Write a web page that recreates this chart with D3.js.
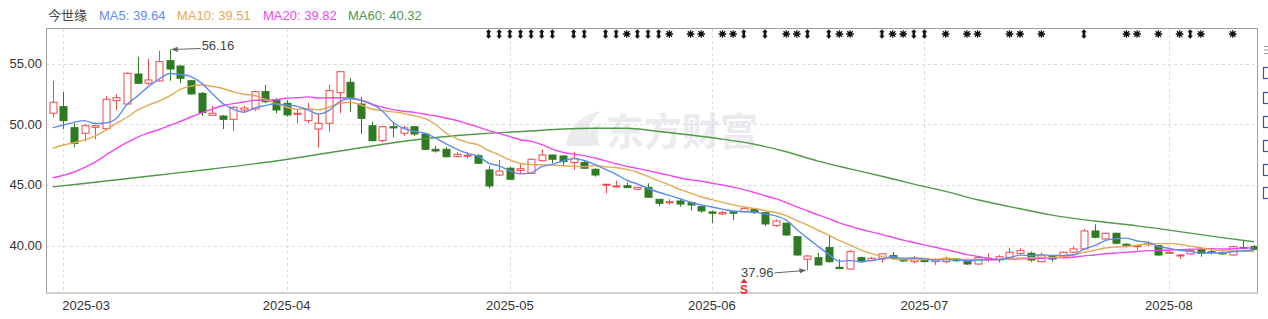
<!DOCTYPE html>
<html>
<head>
<meta charset="utf-8">
<script src="https://cdn.jsdelivr.net/npm/d3@7/dist/d3.min.js"></script>
<style>
  body { margin: 0; background: #fff; }
  svg { display: block; font-family: "Liberation Sans", Arial, "Noto Sans CJK SC", sans-serif; }
</style>
</head>
<body>
<div id="chart"></div>
<script>
// trading days shown on the chart, grouped by month
const monthDays = [
  ['2025-02', [28]],
  ['2025-03', [3,4,5,6,7,10,11,12,13,14,17,18,19,20,21,24,25,26,27,28,31]],
  ['2025-04', [1,2,3,7,8,9,10,11,14,15,16,17,18,21,22,23,24,25,28,29,30]],
  ['2025-05', [6,7,8,9,12,13,14,15,16,19,20,21,22,23,26,27,28,29,30]],
  ['2025-06', [3,4,5,6,9,10,11,12,13,16,17,18,19,20,23,24,25,26,27,30]],
  ['2025-07', [1,2,3,4,7,8,9,10,11,14,15,16,17,18,21,22,23,24,25,28,29,30,31]],
  ['2025-08', [1,4,5,6,7,8,11,12,13]]
]

const open = [50.91,51.45,49.72,49.26,49.75,49.64,51.94,51.67,54.14,53.38,
  53.57,55.24,54.80,53.59,52.55,50.74,50.68,50.41,51.18,51.26,
  52.69,52.00,51.73,50.82,50.30,49.61,50.08,52.60,53.46,51.67,
  49.88,48.65,49.80,49.26,49.80,49.20,47.94,47.94,47.33,47.39,
  47.41,46.24,45.82,46.38,46.19,45.96,47.00,47.47,47.39,46.84,
  46.84,46.29,44.98,44.84,44.94,44.65,44.81,43.82,43.54,43.68,
  43.54,43.21,42.78,42.61,42.78,42.80,43.00,42.72,41.65,41.85,
  40.74,38.88,39.01,39.84,38.22,38.08,39.01,38.76,38.90,39.18,
  38.96,38.68,38.90,38.68,38.68,38.90,38.82,38.49,38.82,38.82,
  39.04,39.37,39.37,38.68,39.18,39.09,39.46,39.73,41.21,40.55,
  41.02,40.12,39.92,40.08,40.00,39.37,39.15,39.32,39.70,39.51,
  39.42,39.23,39.84,39.92]

const close = [51.81,50.30,48.43,49.88,49.88,52.06,52.19,54.20,53.38,53.65,
  55.16,54.55,53.79,52.50,50.96,50.91,50.41,51.40,51.34,52.69,
  51.86,51.18,50.77,50.91,51.24,50.08,52.77,54.33,52.22,50.49,
  48.65,49.80,49.70,49.70,49.20,47.94,47.80,47.33,47.53,47.45,
  46.79,44.92,46.15,45.47,46.34,47.12,47.47,47.12,46.92,47.20,
  46.38,45.82,45.06,44.92,44.78,44.81,43.99,43.49,43.62,43.43,
  43.35,42.86,42.67,42.72,42.67,43.08,42.72,41.79,42.03,40.88,
  39.23,39.15,38.41,38.68,38.11,39.51,38.68,38.96,39.32,38.96,
  38.74,38.96,38.68,38.82,38.96,38.76,38.49,39.01,38.96,39.09,
  39.46,39.59,38.82,39.23,38.90,39.46,39.73,41.21,40.69,41.02,
  40.20,40.00,40.00,40.20,39.23,39.46,39.23,39.59,39.37,39.42,
  39.32,39.92,39.79,39.70]

const high = [53.59,52.66,50.08,50.02,49.94,52.33,52.47,54.28,55.57,55.38,
  56.06,56.16,54.85,53.65,52.66,51.51,50.77,51.51,51.51,52.77,
  53.24,52.15,52.00,51.18,51.78,50.91,53.24,54.35,53.79,52.27,
  50.21,49.86,50.08,49.88,49.82,49.31,48.21,48.11,47.74,47.72,
  47.55,46.57,47.06,46.51,46.81,47.20,47.94,47.49,47.41,47.74,
  47.00,46.38,45.08,45.35,45.19,44.86,45.14,43.84,43.82,43.82,
  43.62,43.27,42.88,42.88,42.80,43.21,43.08,42.80,42.17,41.89,
  40.80,39.21,39.42,40.88,38.88,39.65,39.09,39.09,39.37,39.48,
  39.01,39.15,38.96,38.96,39.09,38.96,38.88,39.09,39.37,39.23,
  39.84,39.79,39.51,39.46,39.23,39.51,39.92,41.38,41.76,41.07,
  41.07,40.20,40.02,40.33,40.06,39.65,39.29,39.65,39.75,39.65,
  39.51,40.00,40.41,40.06]

const low = [50.58,49.59,48.11,48.57,48.76,49.47,51.18,51.60,53.29,53.24,
  53.50,53.59,53.38,52.45,50.68,50.71,49.61,49.45,50.91,51.12,
  51.73,50.91,50.63,50.08,50.08,48.11,49.39,50.91,51.04,49.20,
  48.60,48.52,48.93,49.04,49.04,47.88,47.66,47.28,47.28,47.17,
  46.73,44.73,45.74,45.41,45.99,45.91,46.92,46.79,46.65,46.24,
  46.35,45.68,44.32,44.82,44.76,44.59,43.97,43.27,43.35,43.21,
  42.88,42.72,41.85,42.53,42.12,42.72,42.61,41.62,41.56,40.80,
  39.18,37.96,38.33,38.60,38.06,38.00,38.60,38.72,38.60,38.94,
  38.68,38.55,38.63,38.41,38.55,38.66,38.41,38.39,38.68,38.60,
  38.96,39.23,38.68,38.63,38.68,38.96,39.37,39.65,40.61,40.47,
  40.12,39.84,39.65,39.92,39.18,39.29,38.90,39.26,39.09,39.29,
  39.23,39.18,39.70,39.65]

const ma5 = [49.72,49.94,50.16,50.30,50.06,50.11,50.49,51.64,52.34,53.10,
  53.72,54.19,54.11,53.93,53.39,52.54,51.71,51.24,51.00,51.35,
  51.54,51.69,51.57,51.48,51.19,50.84,51.15,51.87,52.13,51.98,
  51.69,51.10,50.17,49.67,49.41,49.27,48.87,48.39,47.96,47.61,
  47.38,46.80,46.57,46.16,45.93,46.00,46.51,46.70,46.99,47.17,
  47.02,46.69,46.28,45.88,45.39,45.08,44.71,44.40,44.14,43.87,
  43.58,43.35,43.19,43.01,42.85,42.80,42.77,42.60,42.46,42.10,
  41.33,40.62,39.94,39.27,38.72,38.77,38.68,38.79,38.92,39.09,
  38.93,38.99,38.93,38.83,38.83,38.84,38.74,38.81,38.84,38.86,
  39.00,39.22,39.18,39.24,39.20,39.20,39.23,39.71,40.00,40.42,
  40.57,40.62,40.38,40.28,39.93,39.78,39.62,39.54,39.38,39.41,
  39.39,39.52,39.56,39.64]

const ma10 = [48.02,48.29,48.48,48.71,49.04,49.53,50.08,50.58,51.18,51.58,
  51.91,52.34,52.87,53.14,53.24,53.13,52.95,52.67,52.47,52.37,
  52.04,51.70,51.40,51.24,51.27,51.19,51.42,51.72,51.81,51.59,
  51.26,51.13,51.02,50.90,50.69,50.48,49.98,49.28,48.81,48.51,
  48.32,47.84,47.48,47.06,46.77,46.69,46.66,46.64,46.58,46.55,
  46.51,46.60,46.49,46.44,46.28,46.05,45.70,45.34,45.01,44.63,
  44.33,44.03,43.79,43.57,43.36,43.19,43.06,42.89,42.73,42.48,
  42.07,41.69,41.27,40.86,40.41,40.05,39.65,39.36,39.09,38.90,
  38.85,38.83,38.86,38.87,38.96,38.88,38.87,38.87,38.83,38.85,
  38.92,38.98,39.00,39.04,39.03,39.10,39.23,39.45,39.62,39.81,
  39.89,39.93,40.04,40.14,40.17,40.17,40.12,39.96,39.83,39.67,
  39.58,39.57,39.55,39.51]

const ma20 = [45.58,45.80,46.07,46.45,46.89,47.45,48.01,48.50,48.95,49.28,
  49.57,49.90,50.23,50.60,50.93,51.25,51.55,51.70,51.84,51.97,
  51.98,52.02,52.14,52.19,52.26,52.16,52.19,52.19,52.14,51.98,
  51.65,51.42,51.21,51.07,50.98,50.83,50.70,50.50,50.31,50.05,
  49.79,49.48,49.25,48.98,48.73,48.59,48.32,47.96,47.69,47.53,
  47.42,47.22,46.99,46.75,46.53,46.37,46.18,45.99,45.79,45.59,
  45.42,45.32,45.14,45.00,44.82,44.62,44.38,44.11,43.87,43.55,
  43.20,42.86,42.53,42.22,41.88,41.62,41.35,41.13,40.91,40.69,
  40.46,40.26,40.06,39.87,39.68,39.47,39.26,39.12,38.96,38.87,
  38.89,38.91,38.93,38.96,39.00,38.99,39.05,39.16,39.23,39.33,
  39.40,39.45,39.52,39.59,39.60,39.64,39.67,39.70,39.72,39.74,
  39.73,39.75,39.80,39.82]

// MA60 at a subset of days: [day index, value]
const ma60 = [[0,44.84],[5,45.33],[10,45.82],[15,46.32],[21,46.98],[27,47.80],
  [34,48.71],[40,49.20],[45,49.45],[48,49.61],[51,49.67],[54,49.67],[57,49.41],
  [60,49.12],[63,48.78],[66,48.35],[69,47.74],[72,46.96],[75,46.33],[78,45.72],
  [81,45.07],[84,44.47],[87,43.78],[90,43.22],[94,42.52],[98,42.03],[102,41.63],
  [106,41.16],[110,40.66],[113,40.32]]

// event markers along the top edge (day indices)
const daggerDays = [41,42,43,44,45,46,47,49,50,52,53,55,56,57,65,67,71,73,78,81,82,97,107]
const starDays = [54,58,60,61,63,64,69,70,74,75,79,80,84,86,87,90,91,93,101,102,104,106,108,111]
const signalDay = 65

const stockName = '今世缘'

const width = 1268, height = 319
const plot = {left: 46, right: 1257, top: 29, bottom: 293}
const RED = '#f04848', GREEN = '#2f7a22'
const maColors = {MA5: '#5f8cf2', MA10: '#e3a955', MA20: '#f048f0', MA60: '#4f9a4a'}

const dates = monthDays.flatMap(([m, ds]) => ds.map(d => m + '-' + String(d).padStart(2, '0')))

const x = d3.scalePoint().domain(dates).range([52.7, 1254])
const y = d3.scaleLinear().domain([36.1, 57.85]).range([plot.bottom, plot.top])

const svg = d3.select('#chart').append('svg')
  .attr('width', width)
  .attr('height', height)

svg.append('clipPath').attr('id', 'plot-clip')
  .append('rect')
  .attr('x', plot.left).attr('y', plot.top)
  .attr('width', plot.right - plot.left).attr('height', plot.bottom - plot.top)

// watermark
let wm = svg.append('g').attr('fill', '#ebebef')
wm.append('path')
  .attr('d', 'M566,146 C568,128 580,116 600,111 C590,121 586,131 590,146 Z M584,146 C586,134 592,126 602,122 C597,130 596,138 600,146 Z')
wm.append('text')
  .attr('x', 606).attr('y', 145)
  .attr('font-size', 38).attr('font-weight', 'bold')
  .attr('font-family', '"Noto Sans CJK SC", sans-serif')
  .text('东方财富')

// grid
let grid = svg.append('g')
  .attr('stroke', '#dcdcdc')
  .attr('stroke-dasharray', '3,3')

const yTicks = y.ticks(4)
grid.selectAll('.hg').data(yTicks).enter().append('line')
  .attr('x1', plot.left).attr('x2', plot.right)
  .attr('y1', d => Math.round(y(d)) + 0.5).attr('y2', d => Math.round(y(d)) + 0.5)

const monthStarts = dates.filter((d, i) => i > 0 && d.slice(0, 7) !== dates[i - 1].slice(0, 7))
grid.selectAll('.vg').data(monthStarts).enter().append('line')
  .attr('x1', d => Math.round(x(d)) + 0.5).attr('x2', d => Math.round(x(d)) + 0.5)
  .attr('y1', plot.top).attr('y2', plot.bottom)

// frame
svg.append('rect')
  .attr('x', plot.left + 0.5).attr('y', plot.top - 0.5)
  .attr('width', plot.right - plot.left).attr('height', plot.bottom - plot.top + 0.5)
  .attr('fill', 'none').attr('stroke', '#a0a0a0')

// axis labels
svg.append('g').selectAll('text').data(yTicks).enter().append('text')
  .attr('x', 42).attr('y', d => y(d))
  .attr('text-anchor', 'end').attr('dominant-baseline', 'central')
  .attr('font-size', 13).attr('fill', '#333')
  .text(d => d3.format('.2f')(d))

svg.append('g').selectAll('text').data(monthStarts).enter().append('text')
  .attr('x', (d, i) => i === 0 ? x(d) - 1 : x(d))
  .attr('y', 310)
  .attr('text-anchor', (d, i) => i === 0 ? 'start' : 'middle')
  .attr('font-size', 13).attr('fill', '#333')
  .text(d => d.slice(0, 7))

// candles
let candles = svg.append('g').attr('clip-path', 'url(#plot-clip)')
const bars = dates.map((d, i) => ({date: d, o: open[i], c: close[i], h: high[i], l: low[i]}))

let cg = candles.selectAll('g').data(bars).enter().append('g')
  .attr('transform', d => 'translate(' + (Math.round(x(d.date)) + 0.5) + ',0)')

cg.append('line')
  .attr('y1', d => y(d.h)).attr('y2', d => y(d.l))
  .attr('stroke', d => d.c >= d.o ? RED : GREEN)
  .attr('stroke-width', 1)

cg.append('rect')
  .attr('x', -3.5)
  .attr('width', 7)
  .attr('y', d => y(Math.max(d.o, d.c)))
  .attr('height', d => Math.max(1, y(Math.min(d.o, d.c)) - y(Math.max(d.o, d.c))))
  .attr('fill', d => d.c >= d.o ? '#fff' : GREEN)
  .attr('stroke', d => d.c >= d.o ? RED : GREEN)
  .attr('stroke-width', 1)

// moving averages
let lines = svg.append('g').attr('clip-path', 'url(#plot-clip)').attr('fill', 'none').attr('stroke-width', 1.4)
const lineByDay = d3.line()
  .x((d, i) => x(dates[i]))
  .y(d => y(d))
  .curve(d3.curveMonotoneX)
const lineByPoint = d3.line()
  .x(p => x(dates[p[0]]))
  .y(p => y(p[1]))
  .curve(d3.curveMonotoneX)

lines.append('path').attr('d', lineByPoint(ma60)).attr('stroke', maColors.MA60)
lines.append('path').attr('d', lineByDay(ma20)).attr('stroke', maColors.MA20)
lines.append('path').attr('d', lineByDay(ma10)).attr('stroke', maColors.MA10)
lines.append('path').attr('d', lineByDay(ma5)).attr('stroke', maColors.MA5)

// top event markers
let marks = svg.append('g').attr('fill', '#111').attr('stroke', '#111')
marks.selectAll('.dg').data(daggerDays).enter().append('path')
  .attr('transform', i => 'translate(' + x(dates[i]) + ',34)')
  .attr('stroke', 'none')
  .attr('d', 'M0,-4.8 L2.8,-1.8 L1.3,-1.8 L1.3,1.8 L2.8,1.8 L0,4.8 L-2.8,1.8 L-1.3,1.8 L-1.3,-1.8 L-2.8,-1.8 Z')
let stars = marks.selectAll('.st').data(starDays).enter().append('g')
  .attr('transform', i => 'translate(' + x(dates[i]) + ',34)')
stars.append('path')
  .attr('stroke-width', 1.3)
  .attr('d', d3.range(4).map(k => {
    const a = k * Math.PI / 4, r = 3.8
    return 'M' + (-r * Math.cos(a)) + ',' + (-r * Math.sin(a)) + 'L' + (r * Math.cos(a)) + ',' + (r * Math.sin(a))
  }).join(''))
stars.append('circle').attr('r', 1.8).attr('stroke', 'none')

// high / low annotations
svg.append('defs').append('marker')
  .attr('id', 'arrow').attr('viewBox', '0 0 8 8')
  .attr('refX', 7).attr('refY', 4)
  .attr('markerWidth', 7).attr('markerHeight', 7)
  .attr('orient', 'auto')
  .append('path').attr('d', 'M0,1 L8,4 L0,7 Z').attr('fill', '#666')

const iMax = d3.maxIndex(high), iMin = d3.minIndex(low)
let ann = svg.append('g').attr('font-size', 13).attr('fill', '#444')
const xh = x(dates[iMax]), yh = y(high[iMax])
ann.append('line')
  .attr('x1', xh + 31).attr('y1', yh - 1).attr('x2', xh + 2).attr('y2', yh)
  .attr('stroke', '#666').attr('marker-end', 'url(#arrow)')
ann.append('text')
  .attr('x', xh + 32).attr('y', yh - 4).attr('dominant-baseline', 'central')
  .text(d3.format('.2f')(high[iMax]))
const xl = x(dates[iMin]), yl = y(low[iMin])
ann.append('line')
  .attr('x1', xl - 33).attr('y1', yl + 2.5).attr('x2', xl - 2).attr('y2', yl)
  .attr('stroke', '#666').attr('marker-end', 'url(#arrow)')
ann.append('text')
  .attr('x', xl - 34).attr('y', yl + 2).attr('dominant-baseline', 'central')
  .attr('text-anchor', 'end')
  .text(d3.format('.2f')(low[iMin]))

// signal icon at the bottom
const xs = Math.round(x(dates[signalDay]))
let sig = svg.append('g').attr('fill', '#f03030')
sig.append('path').attr('d', 'M' + xs + ',278.5 L' + (xs + 3.5) + ',283 L' + (xs - 3.5) + ',283 Z')
sig.append('text')
  .attr('x', xs).attr('y', 293.5)
  .attr('text-anchor', 'middle')
  .attr('font-size', 12).attr('font-weight', 'bold')
  .text('S')

// legend
const legendItems = [
  {label: 'MA5', value: ma5[ma5.length - 1], x: 99},
  {label: 'MA10', value: ma10[ma10.length - 1], x: 177},
  {label: 'MA20', value: ma20[ma20.length - 1], x: 263},
  {label: 'MA60', value: ma60[ma60.length - 1][1], x: 348}
]
let legend = svg.append('g').attr('font-size', 13)
legend.append('text')
  .attr('x', 48).attr('y', 20)
  .attr('fill', '#444')
  .attr('font-family', '"Noto Sans CJK SC", sans-serif')
  .text(stockName)
legend.selectAll('.lg').data(legendItems).enter().append('text')
  .attr('x', d => d.x).attr('y', 20)
  .attr('fill', d => maColors[d.label])
  .text(d => d.label + ': ' + d3.format('.2f')(d.value))

// cut-off tool buttons at the right edge (menu icon + square buttons)
let tools = svg.append('g')
tools.append('path')
  .attr('d', 'M1264,46.5 H1270 M1264,50 H1270 M1264,53.5 H1270')
  .attr('stroke', '#999').attr('stroke-width', 1)
tools.selectAll('rect').data([73, 98, 122, 146, 170, 193]).enter().append('rect')
  .attr('x', 1263.5).attr('y', d => d - 5.5)
  .attr('width', 10).attr('height', 11)
  .attr('fill', '#fff').attr('stroke', '#3556a8').attr('stroke-width', 1.2)
</script>
</body>
</html>
